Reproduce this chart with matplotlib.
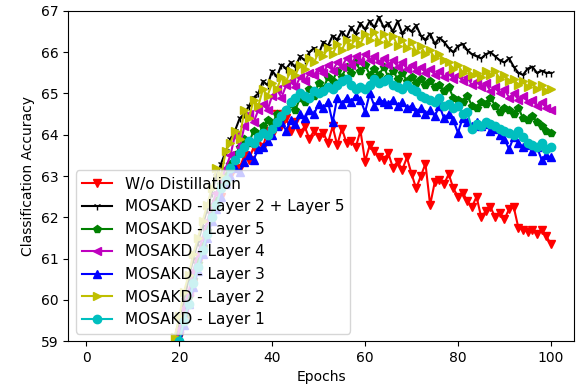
import matplotlib
matplotlib.use("Agg")
import matplotlib.pyplot as plt

# Epochs shown on the chart (earlier epochs are below the y range)
epochs = list(range(17, 101))

# Accuracy per epoch
wo_distill = [57.4, 58.0, 58.5, 59.1, 59.5, 60.1, 60.4, 60.9, 61.2, 61.6,
              61.9, 62.3, 62.5, 62.8, 63.0, 63.3, 63.2, 63.5, 63.4, 63.7,
              63.9, 63.7, 64.1, 64.0, 64.5, 64.2, 64.4, 64.1, 64.3, 64.05,
              64.2, 63.9, 64.1, 63.95, 64.05, 63.8, 64.2, 63.75, 64.15, 63.8,
              63.85, 63.7, 64.1, 63.35, 63.75, 63.6, 63.45, 63.4, 63.55, 63.2,
              63.35, 63.15, 63.45, 63.05, 62.7, 63.0, 63.3, 62.3, 62.85, 62.9,
              62.8, 63.05, 62.7, 62.5, 62.6, 62.4, 62.25, 62.5, 62.0, 62.15,
              62.25, 62.0, 62.1, 61.95, 62.2, 62.25, 61.75, 61.7, 61.65, 61.7,
              61.6, 61.7, 61.55, 61.35]

layer2_5 = [57.9, 58.5, 59.0, 59.5, 60.0, 60.5, 61.0, 61.4, 61.8, 62.2,
            62.6, 63.0, 63.3, 63.6, 63.9, 64.1, 64.4, 64.5, 64.7, 64.9,
            65.0, 65.3, 65.2, 65.55, 65.4, 65.7, 65.6, 65.75, 65.65, 65.9,
            65.8, 66.0, 66.1, 65.95, 66.25, 66.15, 66.4, 66.3, 66.5, 66.35,
            66.6, 66.45, 66.7, 66.55, 66.75, 66.6, 66.85, 66.6, 66.7, 66.5,
            66.75, 66.45, 66.6, 66.5, 66.65, 66.4, 66.3, 66.45, 66.2, 66.35,
            66.25, 66.1, 66.0, 66.15, 66.2, 66.05, 65.95, 65.9, 65.85, 65.95,
            66.0, 65.9, 65.8, 65.75, 65.85, 65.65, 65.5, 65.45, 65.6, 65.65,
            65.5, 65.55, 65.5, 65.5]

layer5 = [57.6, 58.1, 58.7, 59.2, 59.6, 60.1, 60.5, 60.9, 61.3, 61.7,
          62.1, 62.4, 62.8, 63.0, 63.3, 63.5, 63.7, 63.9, 63.8, 64.1,
          64.0, 64.2, 64.35, 64.25, 64.5, 64.4, 64.6, 64.75, 64.6, 64.9,
          64.8, 65.1, 64.95, 65.25, 65.1, 65.4, 65.3, 65.55, 65.4, 65.65,
          65.5, 65.75, 65.55, 65.7, 65.45, 65.6, 65.45, 65.65, 65.4, 65.55,
          65.35, 65.5, 65.3, 65.4, 65.25, 65.35, 65.2, 65.3, 65.15, 65.2,
          65.05, 65.15, 64.9, 64.85, 64.8, 64.95, 64.7, 64.65, 64.8, 64.75,
          64.9, 64.7, 64.55, 64.65, 64.6, 64.5, 64.65, 64.4, 64.35, 64.45,
          64.3, 64.2, 64.1, 64.05]

layer4 = [57.7, 58.3, 58.8, 59.3, 59.8, 60.2, 60.7, 61.1, 61.5, 61.9,
          62.3, 62.6, 62.9, 63.2, 63.5, 64.0, 63.7, 64.2, 64.5, 64.3,
          64.6, 64.75, 64.6, 64.95, 65.1, 64.9, 65.2, 65.3, 65.15, 65.4,
          65.3, 65.5, 65.45, 65.6, 65.5, 65.7, 65.55, 65.75, 65.65, 65.85,
          65.7, 65.9, 65.75, 65.95, 65.8, 65.9, 65.75, 65.85, 65.7, 65.8,
          65.65, 65.75, 65.6, 65.7, 65.55, 65.65, 65.5, 65.6, 65.45, 65.55,
          65.4, 65.5, 65.35, 65.45, 65.3, 65.4, 65.2, 65.3, 65.15, 65.25,
          65.05, 65.15, 65.0, 65.1, 64.9, 65.0, 64.85, 64.95, 64.8, 64.85,
          64.7, 64.8, 64.65, 64.6]

layer3 = [57.3, 57.9, 58.4, 58.9, 59.4, 59.9, 60.3, 60.7, 61.1, 61.5,
          61.9, 62.2, 62.5, 62.8, 63.0, 63.2, 63.1, 63.35, 63.5, 63.4,
          63.65, 63.7, 63.85, 64.0, 64.2, 64.3, 64.1, 64.35, 64.25, 64.5,
          64.4, 64.6, 64.5, 64.75, 64.65, 64.8, 64.3, 64.9, 64.75, 64.9,
          64.8, 64.95, 64.85, 64.55, 65.0, 64.7, 64.85, 64.8, 64.75, 64.85,
          64.7, 64.8, 64.65, 64.7, 64.55, 64.65, 64.5, 64.6, 64.45, 64.7,
          64.4, 64.5, 64.35, 64.05, 64.4, 64.3, 64.2, 64.3, 64.2, 64.25,
          64.1, 64.15, 64.0, 63.9, 63.65, 63.95, 63.8, 63.7, 63.75, 63.6,
          63.7, 63.4, 63.5, 63.45]

layer2 = [58.0, 58.6, 59.1, 59.6, 60.2, 60.6, 61.1, 61.5, 61.9, 62.3,
          62.7, 63.2, 63.0, 63.6, 63.8, 64.1, 63.9, 64.6, 64.4, 64.85,
          64.7, 65.1, 64.95, 65.25, 65.1, 65.4, 65.3, 65.55, 65.45, 65.7,
          65.6, 65.85, 65.75, 66.0, 65.9, 66.1, 65.95, 66.2, 66.05, 66.3,
          66.15, 66.35, 66.2, 66.45, 66.3, 66.5, 66.25, 66.45, 66.2, 66.4,
          66.15, 66.3, 66.1, 66.25, 66.0, 66.15, 65.95, 66.05, 65.85, 65.95,
          65.8, 65.75, 65.6, 65.7, 65.5, 65.6, 65.45, 65.5, 65.4, 65.55,
          65.45, 65.55, 65.35, 65.45, 65.3, 65.35, 65.2, 65.3, 65.15, 65.25,
          65.1, 65.2, 65.05, 65.1]

layer1 = [57.4, 58.0, 58.5, 59.0, 59.5, 59.9, 60.4, 60.8, 61.2, 61.6,
          62.0, 62.3, 62.7, 62.9, 63.2, 63.4, 63.55, 63.7, 63.85, 63.8,
          63.95, 64.05, 64.0, 64.15, 64.3, 64.45, 64.6, 64.8, 64.9, 65.0,
          64.95, 64.9, 65.05, 65.0, 65.05, 65.15, 65.1, 65.2, 65.3, 65.35,
          65.2, 65.1, 65.15, 65.1, 65.2, 65.35, 65.25, 65.3, 65.35, 65.2,
          65.15, 65.1, 65.2, 65.1, 65.05, 64.95, 64.9, 64.85, 64.8, 64.9,
          64.7, 64.75, 64.65, 64.7, 64.5, 64.55, 64.15, 64.25, 64.2, 64.3,
          64.25, 64.2, 64.15, 64.1, 64.05, 64.0, 64.1, 63.95, 63.8, 63.75,
          63.7, 63.8, 63.65, 63.7]

series = [
    (wo_distill, "r", "v", "W/o Distillation"),
    (layer2_5, "k", "1", "MOSAKD - Layer 2 + Layer 5"),
    (layer5, "g", "p", "MOSAKD - Layer 5"),
    (layer4, "m", "<", "MOSAKD - Layer 4"),
    (layer3, "b", "^", "MOSAKD - Layer 3"),
    (layer2, "y", ">", "MOSAKD - Layer 2"),
    (layer1, "c", "o", "MOSAKD - Layer 1"),
]

plt.rcParams["font.size"] = 11

fig, ax = plt.subplots(figsize=(5.82, 3.89), dpi=100)
fig.subplots_adjust(left=0.117, right=0.986, top=0.972, bottom=0.123)

for values, color, marker, label in series:
    ax.plot(epochs, values, color=color, marker=marker, label=label)

ax.set_xlim(-3.95, 104.95)
ax.set_ylim(59, 67)
ax.set_xticks([0, 20, 40, 60, 80, 100])
ax.tick_params(labelsize=10)
ax.set_xlabel("Epochs", fontsize=10)
ax.set_ylabel("Classification Accuracy", fontsize=10)
ax.legend(loc="lower left", fontsize=11)

fig.savefig("out.png", dpi=100)
